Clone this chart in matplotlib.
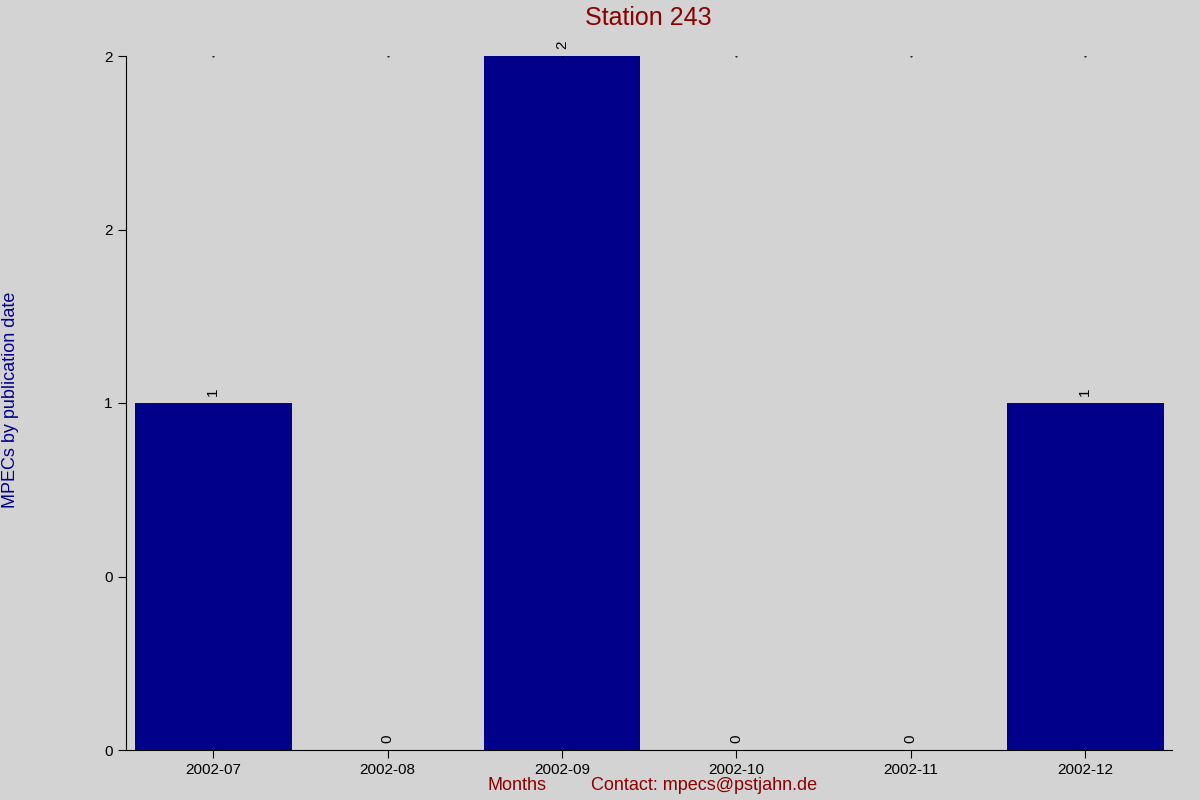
import matplotlib
matplotlib.use('Agg')
import matplotlib.pyplot as plt
import numpy as np

months = ['2002-07', '2002-08', '2002-09', '2002-10', '2002-11', '2002-12']
counts = [1, 0, 2, 0, 0, 1]

plt.rcParams['font.family'] = ['Liberation Sans', 'DejaVu Sans']

fig = plt.figure(figsize=(12, 8), dpi=100, facecolor='#d3d3d3')
ax = fig.add_axes([0.105, 0.0625, 0.872, 0.8675], facecolor='#d3d3d3')

x = np.arange(len(months))
ax.bar(x, counts, width=0.9, color='#00008b')
for xi, c in zip(x, counts):
    ax.text(xi, c + 0.02, str(c), rotation=90, ha='center', va='bottom', fontsize=11)
    ax.plot(xi, 2, marker='.', markersize=1, color='black')

ax.set_xlim(-0.5, 5.5)
ax.set_ylim(0, 2)
ax.set_xticks(x)
ax.set_xticklabels(months, fontsize=11)
yt = [0, 0.5, 1, 1.5, 2]
ax.set_yticks(yt)
ax.set_yticklabels(['0', '0', '1', '2', '2'], fontsize=11)
ax.tick_params(length=6, width=0.8)
ax.spines['top'].set_visible(False)
ax.spines['right'].set_visible(False)

fig.text(0.54, 0.977, 'Station 243', ha='center', va='center', fontsize=18, color='#8b0000')
fig.text(0.431, 0.018, 'Months', ha='center', va='center', fontsize=13, color='#8b0000')
fig.text(0.587, 0.018, 'Contact: mpecs@pstjahn.de', ha='center', va='center', fontsize=13, color='#8b0000')
fig.text(0.009, 0.5, 'MPECs by publication date', rotation=90, ha='center', va='center',
         fontsize=13, color='#00008b')

fig.savefig('out.png', dpi=100, facecolor='#d3d3d3')
